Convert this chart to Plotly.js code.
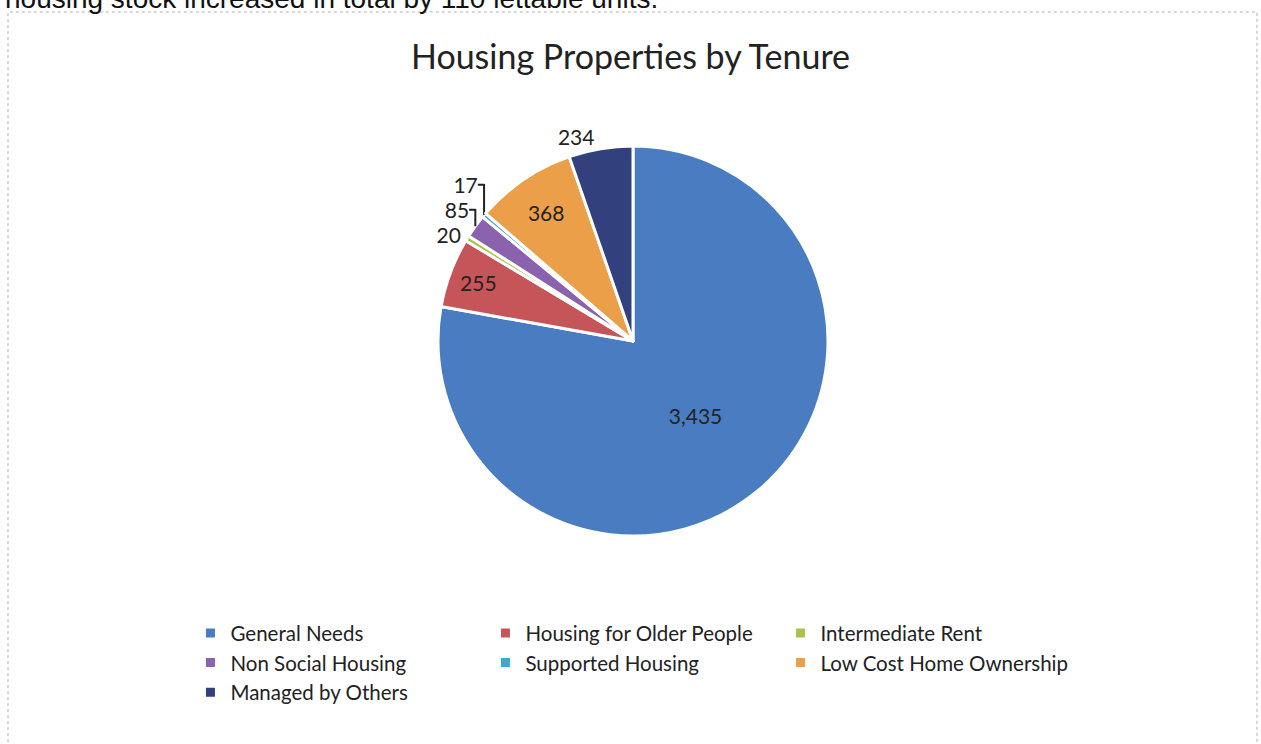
<!DOCTYPE html>
<html>
<head>
<meta charset="utf-8">
<script src="https://cdn.plot.ly/plotly-3.0.1.min.js"></script>
<style>html,body{margin:0;padding:0;background:#fff;}#chart{width:1261px;height:744px;}</style>
</head>
<body>
<div id="chart"></div>
<script>
const categories = ["General Needs", "Housing for Older People", "Intermediate Rent", "Non Social Housing", "Supported Housing", "Low Cost Home Ownership", "Managed by Others"];
const values = [3435, 255, 20, 85, 17, 368, 234];
const labelPositions = ["inside", "inside", "outside", "outside", "outside", "inside", "outside"];
const sliceColors = ["#4a7cc2", "#c65559", "#a9c24a", "#8a62ad", "#42a6d6", "#eb9f48", "#33407e"];
const chartTitle = "Housing Properties by Tenure";
const pageText = "housing stock increased in total by 110 lettable units.";

const font = "Lato, 'Open Sans', sans-serif";

const trace = {
  type: "pie",
  labels: categories,
  values: values,
  sort: false,
  direction: "clockwise",
  rotation: 0,
  textinfo: "value",
  texttemplate: "%{value:,}",
  textposition: labelPositions,
  insidetextorientation: "horizontal",
  textfont: {family: font, size: 21, color: "#222"},
  marker: {colors: sliceColors, line: {color: "#ffffff", width: 3}},
  hoverinfo: "label+value",
  domain: {x: [0.4128, 0.7804], y: [0.2796, 0.8038]},
  showlegend: true
};

const layout = {
  width: 1261,
  height: 744,
  margin: {l: 0, r: 200, t: 0, b: 0},
  paper_bgcolor: "#ffffff",
  plot_bgcolor: "#ffffff",
  title: {text: chartTitle, font: {family: font, size: 34, color: "#222"}, xref: "container", x: 0.5, xanchor: "center", y: 0.923, yanchor: "middle"},
  legend: {
    orientation: "h",
    x: 0.1795, xanchor: "left",
    y: 0.176, yanchor: "top",
    entrywidth: 250, entrywidthmode: "pixels",
    font: {family: font, size: 20.5, color: "#222"},
    traceorder: "normal"
  },
  shapes: [{
    type: "rect", xref: "paper", yref: "paper",
    x0: 0.00754, x1: 1.1847, y0: -0.02, y1: 0.9839,
    line: {color: "#b0b0b0", width: 1, dash: "dot"}
  }],
  annotations: [{
    text: pageText, xref: "paper", yref: "paper", x: 0.003, y: 1.002,
    xanchor: "left", yanchor: "middle", showarrow: false,
    font: {family: "'Liberation Sans', Arial, sans-serif", size: 28, color: "#111"}
  }]
};

Plotly.newPlot("chart", [trace], layout, {displayModeBar: false, staticPlot: true});
</script>
</body>
</html>
